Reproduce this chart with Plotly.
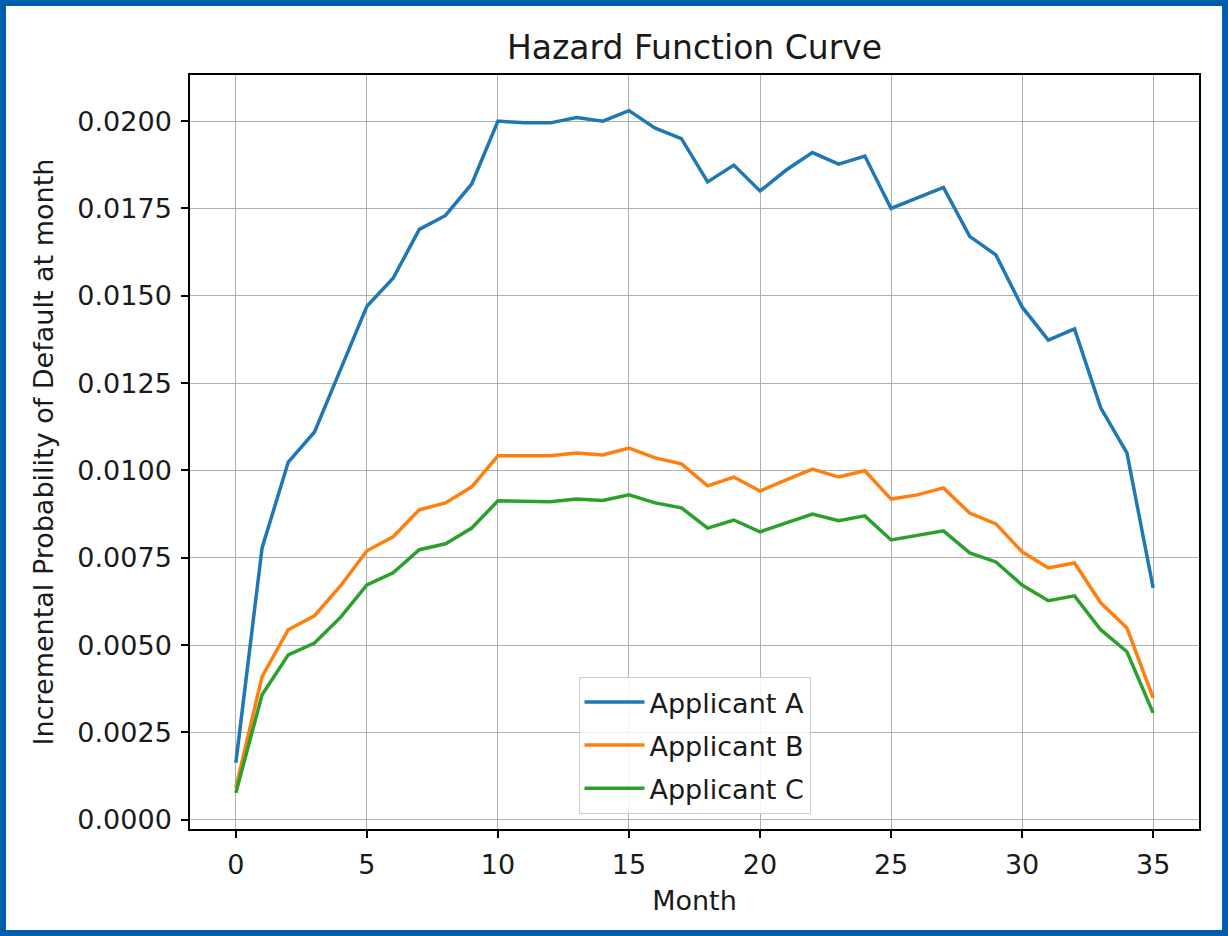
import plotly.graph_objects as go

months = list(range(36))
applicant_a = [0.00163, 0.00778, 0.01024, 0.0111, 0.0129, 0.0147, 0.0155, 0.0169, 0.0173, 0.0182,
               0.0200, 0.01995, 0.01995, 0.0201, 0.0200, 0.0203, 0.0198, 0.0195, 0.01826, 0.01874,
               0.0180, 0.0186, 0.0191, 0.01877, 0.0190, 0.0175, 0.0178, 0.0181, 0.0167, 0.01617,
               0.01468, 0.01373, 0.01405, 0.01179, 0.0105, 0.00664]
applicant_b = [0.00092, 0.0041, 0.00544, 0.00584, 0.0067, 0.0077, 0.0081, 0.00887, 0.00907, 0.00953,
               0.01042, 0.01042, 0.01042, 0.0105, 0.01044, 0.01064, 0.01036, 0.01019, 0.00956, 0.00981,
               0.00941, 0.00973, 0.01004, 0.00981, 0.00999, 0.00918, 0.0093, 0.0095, 0.00878, 0.00847,
               0.00767, 0.00721, 0.00735, 0.00621, 0.00549, 0.00349]
applicant_c = [0.00077, 0.00358, 0.00472, 0.00506, 0.0058, 0.00672, 0.00707, 0.00773, 0.0079, 0.00835,
               0.00913, 0.00912, 0.0091, 0.00918, 0.00914, 0.0093, 0.00907, 0.00893, 0.00835, 0.00858,
               0.00824, 0.0085, 0.00875, 0.00856, 0.0087, 0.00801, 0.00813, 0.00827, 0.00764, 0.00738,
               0.00672, 0.00627, 0.00641, 0.00544, 0.00481, 0.00306]
series_names = ["Applicant A", "Applicant B", "Applicant C"]
colors = ["#1f77b4", "#ff7f0e", "#2ca02c"]
x_ticks = [0, 5, 10, 15, 20, 25, 30, 35]
y_ticks = [0.0, 0.0025, 0.005, 0.0075, 0.01, 0.0125, 0.015, 0.0175, 0.02]

FONT = "DejaVu Sans"
TXT = "#1a1a1a"
FS = 27

fig = go.Figure()
for name, vals, col in zip(series_names, [applicant_a, applicant_b, applicant_c], colors):
    fig.add_trace(go.Scatter(x=months, y=vals, mode="lines", name=name,
                             line=dict(color=col, width=3.5), legendgroup=name))

W, H = 1228, 936
ml, mr, mt, mb = 190, 29, 75, 107
pw, ph = W - ml - mr, H - mt - mb

axis_common = dict(showline=True, linecolor="black", linewidth=1.5, mirror=True,
                   ticks="outside", ticklen=7, tickwidth=1.5, tickcolor="black",
                   showgrid=True, gridcolor="#b0b0b0", gridwidth=1, zeroline=False,
                   tickfont=dict(family=FONT, size=FS, color=TXT))

fig.update_layout(
    width=W, height=H,
    margin=dict(l=ml, r=mr, t=mt, b=mb),
    paper_bgcolor="white", plot_bgcolor="white",
    title=dict(text="Hazard Function Curve", x=(ml + pw / 2) / W, xanchor="center",
               y=1 - 47 / H, yanchor="middle",
               font=dict(family=FONT, size=33, color=TXT)),
    xaxis=dict(range=[-1.75, 36.75], tickvals=x_ticks, ticklabelstandoff=4,
               title=dict(text="Month", font=dict(family=FONT, size=FS, color=TXT), standoff=12),
               **axis_common),
    yaxis=dict(range=[-0.000265, 0.02132], tickvals=y_ticks, tickformat=".4f",
               ticklabelstandoff=4,
               title=dict(text="Incremental Probability of Default at month",
                          font=dict(family=FONT, size=FS, color=TXT), standoff=16),
               **axis_common),
    legend=dict(x=0.5, xanchor="center", y=0.02, yanchor="bottom",
                bgcolor="rgba(255,255,255,0.85)", bordercolor="#cccccc", borderwidth=1,
                font=dict(family=FONT, size=FS, color=TXT), tracegroupgap=5,
                itemwidth=60),
    showlegend=True,
)

# blue frame around the whole image
bw = 6
fig.add_shape(type="rect", xref="paper", yref="paper",
              x0=(bw / 2 - ml) / pw, x1=(W - bw / 2 - ml) / pw,
              y0=-(mb - bw / 2) / ph,
              y1=(H - mb - bw / 2) / ph,
              line=dict(color="#005fad", width=bw), fillcolor="rgba(0,0,0,0)", layer="above")

fig.write_html("out.html")
